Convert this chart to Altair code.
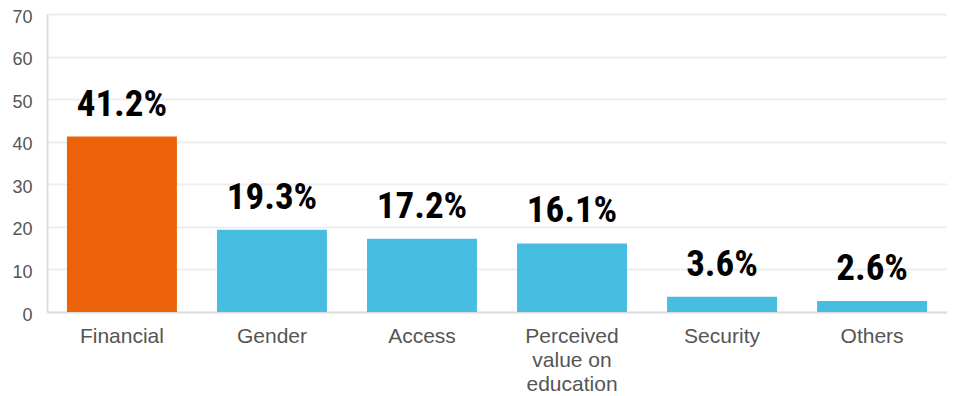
import altair as alt
import pandas as pd

categories = ["Financial", "Gender", "Access", "Perceived\nvalue on\neducation", "Security", "Others"]
values = [41.2, 19.3, 17.2, 16.1, 3.6, 2.6]
labels = ["41.2%", "19.3%", "17.2%", "16.1%", "3.6%", "2.6%"]
highlight = ["yes", "no", "no", "no", "no", "no"]

df = pd.DataFrame({"cat": categories, "val": values, "label": labels, "hl": highlight})

x = alt.X("cat:N", sort=categories, title=None,
          scale=alt.Scale(paddingInner=0.267, paddingOuter=0.133),
          axis=alt.Axis(labelAngle=0, labelExpr="split(datum.label, '\\n')",
                        labelFontSize=21, labelColor="#555555", labelFont="Liberation Sans",
                        labelLineHeight=24, labelPadding=13, ticks=False,
                        domainColor="#dddddd", domainWidth=2, grid=False))
y = alt.Y("val:Q", title=None,
          scale=alt.Scale(domain=[0, 70], nice=False),
          axis=alt.Axis(values=[0, 10, 20, 30, 40, 50, 60, 70], labelFontSize=18,
                        labelColor="#555555", labelFont="Liberation Sans", labelPadding=15,
                        labelOffset=3, ticks=False, domainColor="#dddddd", domainWidth=2,
                        gridColor="#eeeeee", gridWidth=2))

bars = alt.Chart(df).mark_bar().encode(
    x=x, y=y,
    color=alt.Color("hl:N", scale=alt.Scale(domain=["yes", "no"], range=["#EB620B", "#47BEE1"]), legend=None),
)
text = alt.Chart(df).mark_text(font="Roboto Condensed, Liberation Sans Narrow, Roboto", fontWeight="bold",
                               fontSize=37, baseline="alphabetic", dy=-21, color="#000000").encode(
    x=alt.X("cat:N", sort=categories), y="val:Q", text="label:N")

chart = (bars + text).properties(
    width=900, height=298,
    autosize=alt.AutoSizeParams(type="none"),
    padding={"left": 39, "top": 6, "right": 0, "bottom": 88},
).configure_view(stroke=None)

chart.save("out.html", embed_options={"renderer": "svg", "actions": False})
